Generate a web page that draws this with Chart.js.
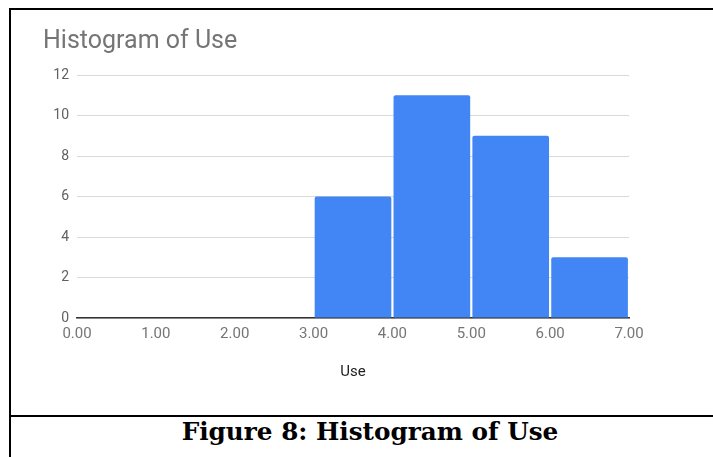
<!DOCTYPE html>
<html>
<head>
<meta charset="utf-8">
<script src="https://cdn.jsdelivr.net/npm/chart.js@4"></script>
<style>
  body { margin: 0; background: #fff; width: 713px; height: 457px; overflow: hidden; position: relative; }
  #frame { position: absolute; left: 9px; top: 8px; width: 712px; height: 470px; border: 2px solid #000; border-bottom: none; }
  #plot { position: relative; width: 702px; height: 405px; }
  #caption { border-top: 2px solid #000; font-family: "DejaVu Serif", serif; font-weight: bold; font-size: 24.7px; line-height: 1.2; text-align: center; padding-top: 0; color: #000; padding-left: 6px; }
</style>
</head>
<body>
<div id="frame">
  <div id="plot"><canvas id="chart"></canvas></div>
  <div id="caption">Figure 8: Histogram of Use</div>
</div>
<script>
const binCenters = [0.5, 1.5, 2.5, 3.5, 4.5, 5.5, 6.5];
const counts = [0, 0, 0, 6, 11, 9, 3];
const yTicks = [0, 2, 4, 6, 8, 10, 12];

const ctx = document.getElementById('chart').getContext('2d');
new Chart(ctx, {
    type: 'bar',
    data: {
        datasets: [{
            label: 'Use',
            data: binCenters.map((x, i) => ({ x: x, y: counts[i] })),
            backgroundColor: '#4285f4',
            borderRadius: { topLeft: 2, topRight: 2 },
            borderSkipped: 'bottom',
            barPercentage: 0.972,
            categoryPercentage: 1
        }]
    },
    options: {
        responsive: true,
        maintainAspectRatio: false,
        animation: false,
        layout: { padding: { left: 32, right: 84, top: 0, bottom: 0 } },
        plugins: {
            legend: { display: false },
            tooltip: { enabled: false },
            title: {
                display: true,
                text: 'Histogram of Use',
                align: 'start',
                color: '#757575',
                font: { family: 'Roboto', size: 25, weight: 'normal', lineHeight: 1.2 },
                padding: { top: 17, bottom: 18 }
            }
        },
        scales: {
            x: {
                type: 'linear',
                offset: false,
                min: 0,
                max: 7,
                afterFit: scale => { scale.height = 97; },
                grid: { display: false, drawTicks: false },
                border: { display: true, color: '#333', width: 1.5 },
                ticks: {
                    stepSize: 1,
                    padding: 7,
                    color: '#757575',
                    font: { family: 'Roboto', size: 15 },
                    callback: v => Number(v).toFixed(2)
                },
                title: {
                    display: true,
                    text: 'Use',
                    color: '#222',
                    font: { family: 'Roboto', size: 15 },
                    padding: { top: 20, bottom: 34 }
                }
            },
            y: {
                min: 0,
                max: 12,
                afterFit: scale => { scale.width = 34; },
                afterBuildTicks: scale => { scale.ticks = yTicks.map(v => ({ value: v })); },
                grid: { color: '#d9d9d9', lineWidth: 1, drawTicks: false },
                border: { display: false },
                ticks: {
                    padding: 8,
                    color: '#616161',
                    font: { family: 'Roboto', size: 14 }
                }
            }
        }
    }
});
</script>
</body>
</html>
